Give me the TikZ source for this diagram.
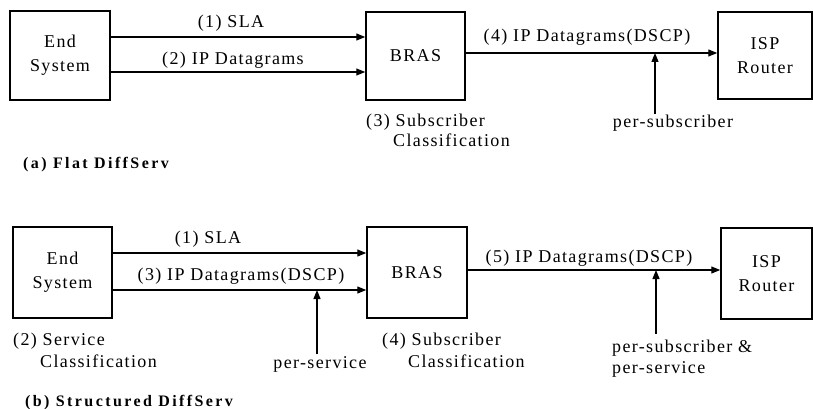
\documentclass[tikz,border=0pt]{standalone}
\usepackage{fontspec}
\setmainfont{Liberation Serif}[LetterSpace=7.5]
\usepackage{tikz}
\usetikzlibrary{arrows.meta, calc, positioning}
\tikzset{box/.style={draw=black, line width=1.5pt, minimum width=100, minimum height=89, align=center, inner sep=0pt, font=\fontsize{18}{24}\selectfont}}
\tikzset{lbl/.style={inner sep=1.5pt, align=left, font=\fontsize{18}{20}\selectfont}}
\tikzset{capt/.style={inner sep=0pt, font=\fontsize{16}{20}\selectfont\bfseries\addfontfeatures{LetterSpace=15}}}
\tikzset{flow/.style={line width=1.2pt, -{Triangle[length=9pt, width=7pt]}}}

\begin{document}
\begin{tikzpicture}[x=1pt, y=-1pt]
                        \useasboundingbox (0,0) rectangle (813,409);

                        \node[box] (endA) at (60, 55.5) {End\\System};
                        \node[box, minimum width=99, minimum height=88] (brasA) at (415.5, 56) {BRAS};
                        \node[box, minimum width=94, minimum height=87] (ispA) at (765, 55.5) {ISP\\Router};

                        \node[lbl, anchor=base] (slaA) at (231, 28) {(1) SLA};
                        \node[lbl, anchor=base] (ipA) at (233, 65) {(2) IP Datagrams};
                        \node[lbl, anchor=base] (dscpA) at (587, 42) {(4) IP Datagrams(DSCP)};
                        \node[lbl, anchor=north west] (clsA) at (364.5, 112) {(3) Subscriber\\\hspace*{27pt}Classification};
                        \node[lbl, anchor=base] (subA) at (673, 128) {per-subscriber};
                        \node[capt, anchor=base west] (capA) at (23, 168) {(a) Flat DiffServ};
                        \coordinate (tapA) at (655, 53);

                        \draw[flow] ([yshift=18.5]endA.east) -- ([yshift=18.5]endA.east -| brasA.west);
                        \draw[flow] ([yshift=-16.5]endA.east) -- ([yshift=-16.5]endA.east -| brasA.west);
                        \draw[flow] ([yshift=3]brasA.east) -- ([yshift=3]brasA.east -| ispA.west);
                        \draw[flow] (tapA |- subA.north) -- (tapA);

                        \node[box, minimum width=99, minimum height=91] (endB) at (62.5, 272.5) {End\\System};
                        \node[box, minimum height=91] (brasB) at (417, 272.5) {BRAS};
                        \node[box, minimum width=91, minimum height=91] (ispB) at (766.5, 273.5) {ISP\\Router};

                        \node[lbl, anchor=base] (slaB) at (208, 243) {(1) SLA};
                        \node[lbl, anchor=base] (ipB) at (241, 280) {(3) IP Datagrams(DSCP)};
                        \node[lbl, anchor=base] (dscpB) at (589, 262) {(5) IP Datagrams(DSCP)};
                        \node[lbl, anchor=north west, font=\fontsize{18}{22}\selectfont] (clsE) at (11.5, 331) {(2) Service\\\hspace*{27pt}Classification};
                        \node[lbl, anchor=north west, font=\fontsize{18}{22}\selectfont] (clsB) at (380.5, 331) {(4) Subscriber\\\hspace*{26pt}Classification};
                        \node[lbl, anchor=base] (servB) at (320, 368) {per-service};
                        \node[lbl, anchor=north west, font=\fontsize{18}{21}\selectfont] (subB) at (610.5, 338) {per-subscriber \&\\per-service};
                        \node[capt, anchor=base west] (capB) at (25, 406) {(b) Structured DiffServ};
                        \coordinate (tapB) at (317, 290);
                        \coordinate (tapC) at (656, 270);

                        \draw[flow] ([yshift=19.5]endB.east) -- ([yshift=19.5]endB.east -| brasB.west);
                        \draw[flow] ([yshift=-17.5]endB.east) -- ([yshift=-17.5]endB.east -| brasB.west);
                        \draw[flow] ([yshift=2.5]brasB.east) -- ([yshift=2.5]brasB.east -| ispB.west);
                        \draw[flow] (tapB |- servB.north) -- (tapB);
                        \draw[flow] ([yshift=4]subB.north -| tapC) -- (tapC);
                    \end{tikzpicture}
\end{document}
